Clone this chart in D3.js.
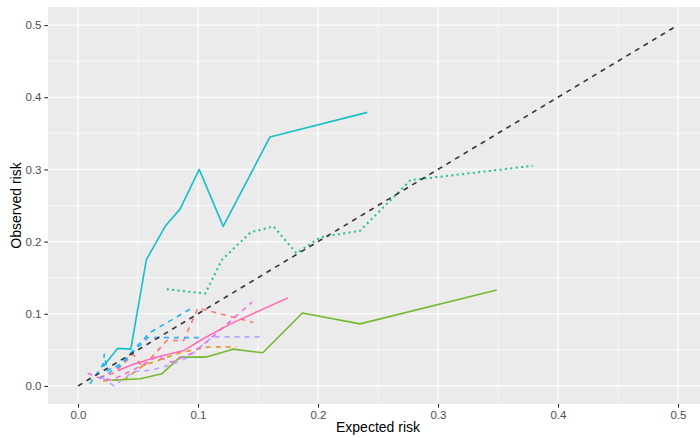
<!DOCTYPE html>
<html>
<head>
<meta charset="utf-8">
<script src="https://cdn.jsdelivr.net/npm/d3@7"></script>
<style>
  body { margin: 0; background: #fff; }
  svg { display: block; font-family: "Liberation Sans", Arial, sans-serif; }
</style>
</head>
<body>
<div id="chart-container"></div>
<script>
// calibration curves, one [expected, observed] list per group
var cyan_solid = [[0.021,0.027],[0.033,0.052],[0.044,0.051],[0.057,0.175],[0.073,0.222],[0.085,0.245],[0.101,0.300],[0.121,0.221],[0.160,0.345],[0.241,0.379]];
var green_dotted = [[0.074,0.134],[0.106,0.128],[0.120,0.175],[0.144,0.213],[0.163,0.221],[0.182,0.184],[0.202,0.206],[0.235,0.215],[0.250,0.240],[0.277,0.285],[0.379,0.305]];
var green_solid = [[0.028,0.008],[0.052,0.010],[0.070,0.017],[0.085,0.040],[0.107,0.040],[0.129,0.051],[0.154,0.046],[0.187,0.101],[0.235,0.086],[0.349,0.133]];
var pink_solid = [[0.033,0.021],[0.046,0.030],[0.066,0.040],[0.088,0.049],[0.104,0.065],[0.127,0.086],[0.175,0.122]];
var salmon_dashed = [[0.018,0.012],[0.030,0.018],[0.046,0.044],[0.054,0.026],[0.074,0.063],[0.088,0.063],[0.100,0.108],[0.146,0.088]];
var blue_dashed = [[0.010,0.003],[0.021,0.030],[0.022,0.044],[0.024,0.021],[0.035,0.030],[0.060,0.074],[0.096,0.109]];
var sky_dashed = [[0.018,0.010],[0.035,0.028],[0.058,0.067],[0.105,0.067]];
var lavender_dashed = [[0.020,0.012],[0.030,0.000],[0.046,0.020],[0.062,0.022],[0.080,0.031],[0.092,0.040],[0.112,0.068],[0.153,0.068]];
var orange_dashed = [[0.021,0.007],[0.039,0.009],[0.054,0.028],[0.085,0.046],[0.108,0.054],[0.132,0.054]];
var magenta_dashed = [[0.008,0.018],[0.016,0.012],[0.028,0.008],[0.048,0.024],[0.066,0.041],[0.078,0.033],[0.096,0.046],[0.110,0.065],[0.145,0.116]];
var reference_line = [[0,0],[0.5,0.5]];

var x_ticks = [0, 0.1, 0.2, 0.3, 0.4, 0.5];
var y_ticks = [0, 0.1, 0.2, 0.3, 0.4, 0.5];
var minor_ticks = [0.05, 0.15, 0.25, 0.35, 0.45];

var series = [
  {data: salmon_dashed, color: "#F8766D", dash: "5,5", w: 1.6},
  {data: orange_dashed, color: "#E39019", dash: "5,5", w: 1.6},
  {data: green_solid, color: "#74B92E", dash: null, w: 1.6},
  {data: green_dotted, color: "#1EC47F", dash: "2,3.4", w: 2},
  {data: cyan_solid, color: "#14BFC8", dash: null, w: 1.6},
  {data: blue_dashed, color: "#16B2F2", dash: "5,5", w: 1.6},
  {data: sky_dashed, color: "#3FA8FF", dash: "5,5", w: 1.6},
  {data: lavender_dashed, color: "#BDA0FF", dash: "5,5", w: 1.6},
  {data: magenta_dashed, color: "#F06AE6", dash: "5,5", w: 1.6},
  {data: pink_solid, color: "#FF6AB4", dash: null, w: 1.6}
];

var svg_width = 700, svg_height = 437;
var margin = {top: 7, right: -8, bottom: 33, left: 48};
var width = svg_width - margin.left - margin.right;
var height = svg_height - margin.top - margin.bottom;

var svg = d3.select("#chart-container").append("svg")
  .attr("width", svg_width)
  .attr("height", svg_height);

var g = svg.append("g")
  .attr("transform", "translate(" + margin.left + "," + margin.top + ")");

var x = d3.scaleLinear().domain([-0.025, 0.525]).range([0, width]);
var y = d3.scaleLinear().domain([-0.025, 0.525]).range([height, 0]);

g.append("rect")
  .attr("width", width).attr("height", height)
  .attr("fill", "#EBEBEB");

// grid
g.selectAll(".minor-x").data(minor_ticks).enter().append("line")
  .attr("x1", d => x(d)).attr("x2", d => x(d))
  .attr("y1", 0).attr("y2", height)
  .attr("stroke", "#fff").attr("stroke-width", 0.6);
g.selectAll(".minor-y").data(minor_ticks).enter().append("line")
  .attr("y1", d => y(d)).attr("y2", d => y(d))
  .attr("x1", 0).attr("x2", width)
  .attr("stroke", "#fff").attr("stroke-width", 0.6);
g.selectAll(".major-x").data(x_ticks).enter().append("line")
  .attr("x1", d => x(d)).attr("x2", d => x(d))
  .attr("y1", 0).attr("y2", height)
  .attr("stroke", "#fff").attr("stroke-width", 1.2);
g.selectAll(".major-y").data(y_ticks).enter().append("line")
  .attr("y1", d => y(d)).attr("y2", d => y(d))
  .attr("x1", 0).attr("x2", width)
  .attr("stroke", "#fff").attr("stroke-width", 1.2);

var line = d3.line().x(d => x(d[0])).y(d => y(d[1]));

g.selectAll(".curve").data(series).enter().append("path")
  .attr("class", "curve")
  .attr("d", d => line(d.data))
  .attr("fill", "none")
  .attr("stroke", d => d.color)
  .attr("stroke-width", d => d.w)
  .attr("stroke-linejoin", "round")
  .attr("stroke-dasharray", d => d.dash);

g.append("path")
  .attr("d", line(reference_line))
  .attr("fill", "none")
  .attr("stroke", "#333333")
  .attr("stroke-width", 1.6)
  .attr("stroke-dasharray", "5,5");

// axes
var xAxis = g.append("g")
  .attr("transform", "translate(0," + height + ")")
  .call(d3.axisBottom(x).tickValues(x_ticks).tickFormat(d3.format(".1f")).tickSizeInner(3.7).tickSizeOuter(0));
var yAxis = g.append("g")
  .call(d3.axisLeft(y).tickValues(y_ticks).tickFormat(d3.format(".1f")).tickSizeInner(3.7).tickSizeOuter(0));

[xAxis, yAxis].forEach(function(a) {
  a.select(".domain").remove();
  a.selectAll(".tick line").attr("stroke", "#333333").attr("stroke-width", 1.1);
  a.selectAll(".tick text").attr("fill", "#4D4D4D").style("font-size", "11.5px");
});
xAxis.selectAll(".tick text").attr("dy", "0.71em").attr("y", 6.5);
yAxis.selectAll(".tick text").attr("x", -6.5);

svg.append("text")
  .attr("x", margin.left + (700 + 8 - margin.left) / 2)
  .attr("y", 432)
  .attr("text-anchor", "middle")
  .attr("fill", "#000")
  .style("font-size", "14px")
  .text("Expected risk");

svg.append("text")
  .attr("transform", "translate(21," + (margin.top + height / 2) + ") rotate(-90)")
  .attr("text-anchor", "middle")
  .attr("fill", "#000")
  .style("font-size", "14px")
  .text("Observed risk");
</script>
</body>
</html>
